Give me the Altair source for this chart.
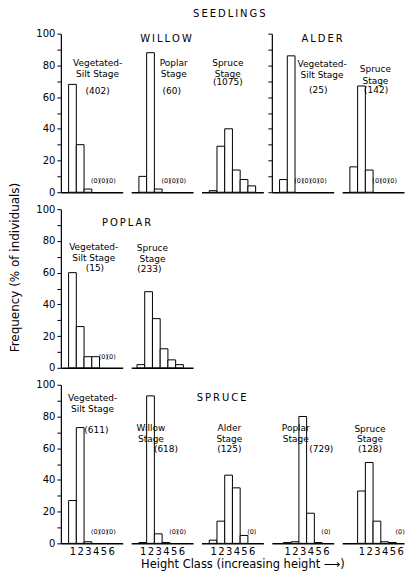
import altair as alt
import pandas as pd

FONT = "DejaVu Sans"

# ---------------- data (percent of individuals per height class) ----------------
classes = [1, 2, 3, 4, 5, 6]

willow_vs = [68, 30, 2, 0, 0, 0]
willow_poplar = [10, 88, 2, 0, 0, 0]
willow_spruce = [1, 29, 40, 14, 8, 4]
alder_vs = [8, 86, 0, 0, 0, 0]
alder_spruce = [16, 67, 14, 0, 0, 0]

poplar_vs = [60, 26, 7, 7, 0, 0]
poplar_spruce = [2, 48, 31, 12, 5, 2]

spruce_vs = [27, 73, 1, 0, 0, 0]
spruce_willow = [0.5, 93, 6, 0.5, 0, 0]
spruce_alder = [2, 14, 43, 35, 5, 0]
spruce_poplar = [0.5, 1, 80, 19, 0.5, 0]
spruce_spruce = [33, 51, 14, 1, 0.5, 0]

vs_stage = ["Vegetated-", "Silt Stage"]
willow_stage = ["Willow", "Stage"]
alder_stage = ["Alder", "Stage"]
poplar_stage = ["Poplar", "Stage"]
spruce_stage = ["Spruce", "Stage"]

row1_counts = ["(402)", "(60)", "(1075)", "(25)", "(142)"]
row2_counts = ["(15)", "(233)"]
row3_counts = ["(611)", "(618)", "(125)", "(729)", "(128)"]

y_ticks = list(range(0, 101, 10))
Y_TITLE = "Frequency (% of individuals)"
X_TITLE = "Height Class (increasing height \u27f6)"

W, H = 62, 159
SPAN = 8.0  # class units shown per panel


def panel(vals, lines, count, pos, d0=0.0, yaxis="none",
          ytitle=False, xlab=False, xtitle=False, heads=()):
    df = pd.DataFrame({"lo": [float(c) for c in classes], "val": vals})
    df["hi"] = df["lo"] + 1
    df["base"] = 0.0

    xs = alt.Scale(domain=[d0, d0 + SPAN], nice=False, zero=False)
    ys = alt.Scale(domain=[0, 100], nice=False, zero=True)

    xkw = dict(domain=True, domainColor="black", domainWidth=1.5, grid=False,
               ticks=False)
    if xlab:
        xkw.update(values=[c + 0.5 for c in classes],
                   labelExpr="floor(datum.value)", labelFont=FONT,
                   labelFontSize=10, labelColor="black", labelPadding=3,
                   labelFlush=False)
    else:
        xkw.update(labels=False)
    if xtitle:
        xkw.update(title=X_TITLE, titleFont=FONT, titleFontSize=11.5,
                   titleFontWeight="normal", titleColor="black",
                   titlePadding=2, titleX=41)
    else:
        xkw.update(title=None)
    xaxis = alt.Axis(**xkw)

    if yaxis == "none":
        yaxis_obj = None
    else:
        ykw = dict(values=y_ticks, tickSize=4, tickColor="black",
                   domainColor="black", domainWidth=1.2, grid=False,
                   labelFont=FONT, labelFontSize=10, labelColor="black",
                   labelPadding=2, labelOverlap=False,
                   labelExpr="datum.value % 20 === 0 ? datum.label : ''")
        if yaxis == "nolabels":
            ykw.update(labels=False)
        if ytitle:
            ykw.update(title=Y_TITLE, titleFont=FONT, titleFontSize=12,
                       titleFontWeight="normal", titleColor="black",
                       titlePadding=14, titleY=58)
        else:
            ykw.update(title=None)
        yaxis_obj = alt.Axis(**ykw)

    xenc = alt.X("lo:Q", scale=xs, axis=xaxis)
    yenc = alt.Y("val:Q", scale=ys, axis=yaxis_obj)

    bars = alt.Chart(df[df["val"] > 0]).mark_bar(
        fill="white", stroke="black", strokeWidth=1
    ).encode(x=xenc, x2="hi:Q", y=yenc, y2="base:Q")
    layers = [bars]

    zdf = df[df["val"] == 0].copy()
    if len(zdf):
        zdf["lo"] = zdf["lo"] + 0.5
        zdf["val"] = 7
        zdf["text"] = "(0)"
        layers.append(alt.Chart(zdf).mark_text(
            font=FONT, fontSize=6.5, color="black"
        ).encode(x=xenc, y=yenc, text="text:N"))

    xl, y1, y2, xn, yn = pos
    adf = pd.DataFrame({"lo": [xl, xl, xn], "val": [y1, y2, yn],
                        "text": [lines[0], lines[1], count]})
    layers.append(alt.Chart(adf).mark_text(
        font=FONT, fontSize=9, color="black"
    ).encode(x=xenc, y=yenc, text="text:N"))

    for (txt, hx, hy) in heads:
        hdf = pd.DataFrame({"lo": [hx], "val": [hy], "text": [txt]})
        layers.append(alt.Chart(hdf).mark_text(
            font=FONT, fontSize=10, color="black"
        ).encode(x=xenc, y=yenc, text="text:N"))

    return alt.layer(*layers).properties(width=W, height=H)


def blank():
    d = pd.DataFrame({"a": [0.0]})
    return alt.Chart(d).mark_point(opacity=0).encode(
        x=alt.X("a:Q", axis=None), y=alt.Y("a:Q", axis=None)
    ).properties(width=W, height=H)


def spaced(s):
    return "\u2009".join(list(s))


panels = [
    # row 1 : WILLOW (3 stages) + ALDER (2 stages)
    panel(willow_vs, vs_stage, row1_counts[0], (4.75, 81.7, 74.8, 4.75, 63.6),
          yaxis="labels"),
    panel(willow_poplar, poplar_stage, row1_counts[1], (5.5, 81.7, 74.8, 5.25, 63.6),
          heads=[(spaced("WILLOW"), 4.5, 96.7)]),
    panel(willow_spruce, spruce_stage, row1_counts[2], (3.4, 81.7, 74.8, 3.4, 69.2),
          heads=[(spaced("SEEDLINGS"), 3.6, 112.3)]),
    panel(alder_vs, vs_stage, row1_counts[3], (6.5, 81.1, 74.2, 6.0, 64.2),
          yaxis="nolabels", heads=[(spaced("ALDER"), 6.5, 96.7)]),
    panel(alder_spruce, spruce_stage, row1_counts[4], (4.3, 77.6, 70.4, 4.4, 64.3)),
    # row 2 : POPLAR
    panel(poplar_vs, vs_stage, row2_counts[0], (4.25, 76.1, 69.2, 4.4, 63.0),
          yaxis="labels", ytitle=True, heads=[(spaced("POPLAR"), 8.5, 91.0)]),
    panel(poplar_spruce, spruce_stage, row2_counts[1], (3.0, 75.5, 68.8, 2.6, 62.6),
          d0=0.25),
    blank(), blank(), blank(),
    # row 3 : SPRUCE
    panel(spruce_vs, vs_stage, row3_counts[0], (4.1, 91.9, 85.0, 4.6, 71.3),
          yaxis="labels", xlab=True),
    panel(spruce_willow, willow_stage, row3_counts[1], (2.55, 72.5, 65.6, 4.5, 59.4),
          xlab=True),
    panel(spruce_alder, alder_stage, row3_counts[2], (3.6, 72.5, 66.1, 3.6, 59.8),
          xlab=True, xtitle=True, heads=[(spaced("SPRUCE"), 2.6, 91.9)]),
    panel(spruce_poplar, poplar_stage, row3_counts[3], (2.6, 72.5, 65.6, 5.9, 59.8),
          d0=-0.5, xlab=True),
    panel(spruce_spruce, spruce_stage, row3_counts[4], (2.6, 72.2, 65.8, 2.6, 59.4),
          d0=-1.0, xlab=True),
]

chart = alt.concat(
    *panels, columns=5, bounds="flush", spacing={"row": 17, "column": 8.5}
).properties(
    padding={"left": 0, "top": 0, "right": 0, "bottom": 0},
    background="white",
).configure_view(strokeWidth=0)

chart.save("out.html", embed_options={"renderer": "svg", "actions": False})
